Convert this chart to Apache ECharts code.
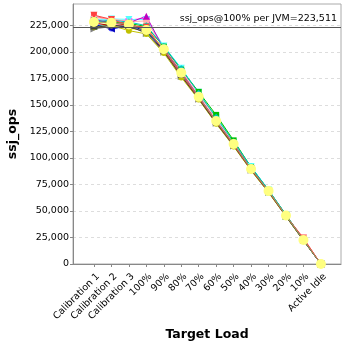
<!DOCTYPE html>
<html>
<head>
<meta charset="utf-8">
<script src="https://cdn.jsdelivr.net/npm/echarts@6/dist/echarts.min.js"></script>
<style>
  html, body { margin: 0; padding: 0; background: #fff; }
  #chart { width: 348px; height: 348px; }
</style>
</head>
<body>
<div id="chart"></div>
<script>
// Target load levels along the x axis
const categories = ['Calibration 1', 'Calibration 2', 'Calibration 3', '100%', '90%', '80%',
  '70%', '60%', '50%', '40%', '30%', '20%', '10%', 'Active Idle'];

// ssj_ops per JVM at each load level
const jvm01 = [233800, 229500, 224000, 222800, 200500, 178000, 156000, 133200, 111500, 88900, 68200, 45200, 23800, 0];
const jvm02 = [226500, 222000, 223500, 219000, 201800, 179300, 157200, 134000, 112400, 89100, 68400, 45300, 22400, 0];
const jvm03 = [224000, 226800, 227500, 218000, 204200, 177500, 158800, 139800, 115300, 90500, 68000, 45000, 22200, 0];
const jvm04 = [228800, 225900, 221000, 221500, 203000, 182000, 157900, 135500, 113800, 90200, 69500, 46000, 22800, 0];
const jvm05 = [231000, 228900, 229800, 231800, 202600, 181200, 158300, 134900, 112900, 89800, 69100, 45800, 22500, 0];
const jvm06 = [230200, 230900, 230500, 230200, 205400, 184500, 161800, 137600, 114800, 91800, 69800, 46500, 22900, 0];
const jvm07 = [232000, 231200, 228300, 229000, 203900, 182800, 160500, 136300, 114000, 90700, 69200, 46100, 23100, 0];
const jvm08 = [221500, 223800, 224500, 217200, 199500, 176800, 155200, 132600, 111200, 88300, 67700, 44800, 22100, 0];
const jvm09 = [227200, 224500, 226100, 220800, 201000, 179000, 156400, 133800, 112100, 89300, 68600, 45500, 22700, 0];
const jvm10 = [225800, 221500, 224900, 219600, 202100, 179800, 157000, 134400, 112700, 89500, 68800, 45600, 22600, 0];
const jvm11 = [229500, 227800, 226700, 223800, 204800, 183200, 162200, 140500, 116500, 91200, 69600, 46300, 22800, 0];
const jvm12 = [223200, 224800, 219900, 216800, 198800, 175800, 154900, 132200, 110800, 88000, 67300, 44600, 21900, 0];
const jvm13 = [230800, 226300, 227300, 233500, 202800, 180500, 157700, 134800, 113200, 89900, 69000, 45700, 22600, 0];
const jvm14 = [228300, 229700, 228000, 224600, 205000, 183900, 161000, 138200, 115100, 91400, 69700, 46400, 22900, 0];
const jvm15 = [222800, 225200, 223300, 218500, 200200, 177300, 155600, 133000, 111600, 88600, 67900, 44900, 22200, 0];
const jvm16 = [234500, 230500, 225000, 223000, 201500, 178600, 156800, 134200, 112300, 89200, 68500, 45400, 24500, 0];

// Mean over all JVMs
const average = [228000, 227400, 225800, 220500, 202300, 180100, 157500, 134700, 113000, 89600, 68900, 45700, 22600, 0];

// Reference value: ssj_ops at 100% load per JVM
const perJvmAt100 = 223511;

// Y axis tick values
const yTicks = [0, 25000, 50000, 75000, 100000, 125000, 150000, 175000, 200000, 225000];

const jvmSeries = [jvm01, jvm02, jvm03, jvm04, jvm05, jvm06, jvm07, jvm08,
  jvm09, jvm10, jvm11, jvm12, jvm13, jvm14, jvm15, jvm16];

const palette = ['#FF5555', '#5555FF', '#55FF55', '#FFFF55', '#FF55FF', '#55FFFF', '#FFAFAF', '#808080',
  '#C00000', '#0000C0', '#00C000', '#C0C000', '#C000C0', '#00C0C0', '#404040', '#FF4040'];
const shapes = [
  ['rect', 0, 6], ['circle', 0, 6], ['triangle', 0, 7], ['diamond', 0, 7],
  ['rect', 0, [7, 4]], ['triangle', 180, 7], ['circle', 0, [7, 5]], ['triangle', -90, 7],
  ['rect', 0, [4, 7]], ['triangle', 90, 7], ['rect', 0, 6], ['circle', 0, 6],
  ['triangle', 0, 7], ['diamond', 0, 7], ['rect', 0, [7, 4]], ['triangle', 180, 7]
];

const fmt = v => Math.round(v).toString().replace(/\B(?=(\d{3})+(?!\d))/g, ',');
const idx = categories.map((c, i) => i);
// rotated category labels sit a little to the right of their tick
const labelPos = idx.map(i => i + 0.23);

const series = jvmSeries.map((vals, s) => ({
  type: 'line',
  name: 'JVM ' + (s + 1),
  data: vals.map((v, i) => [i, v]),
  symbol: shapes[s][0],
  symbolRotate: shapes[s][1],
  symbolSize: shapes[s][2],
  itemStyle: { color: palette[s] },
  lineStyle: { color: palette[s], width: 1 },
  emphasis: { disabled: true },
  animation: false,
  z: 2
}));

series.push({
  type: 'line',
  name: 'Average',
  data: average.map((v, i) => [i, v]),
  symbol: 'circle',
  symbolSize: 10,
  itemStyle: { color: '#FFFF80' },
  lineStyle: { color: '#A0A060', width: 1 },
  emphasis: { disabled: true },
  animation: false,
  z: 4,
  markLine: {
    silent: true,
    symbol: 'none',
    animation: false,
    lineStyle: { color: '#555555', width: 1, type: 'solid' },
    label: {
      position: 'insideEndTop',
      formatter: 'ssj_ops@100% per JVM=' + fmt(perJvmAt100),
      color: '#000',
      fontFamily: 'DejaVu Sans',
      fontSize: 9.5,
      padding: [0, 4, 0, 0],
      distance: [0, 3]
    },
    data: [{ yAxis: perJvmAt100 }]
  }
});

const chart = echarts.init(document.getElementById('chart'), null, { renderer: 'canvas' });
chart.setOption({
  backgroundColor: '#ffffff',
  animation: false,
  grid: {
    left: 73, right: 7, top: 4, bottom: 84,
    containLabel: false,
    outerBoundsMode: 'none',
    show: true, borderColor: '#aaaaaa', borderWidth: 1, backgroundColor: '#ffffff'
  },
  xAxis: {
    type: 'value',
    min: -1.2,
    max: 14.15,
    name: 'Target Load',
    nameLocation: 'middle',
    nameGap: 64,
    nameTextStyle: { fontFamily: 'DejaVu Sans', fontWeight: 'bold', fontSize: 12.5, color: '#000' },
    axisLine: { show: true, onZero: false, lineStyle: { color: '#888888' } },
    axisTick: { show: true, customValues: idx, length: 3, inside: false, lineStyle: { color: '#888888' } },
    axisLabel: {
      customValues: labelPos,
      rotate: 45,
      formatter: v => categories[Math.round(v)],
      fontFamily: 'DejaVu Sans',
      fontSize: 9.5,
      color: '#000',
      margin: 11
    },
    splitLine: { show: false }
  },
  yAxis: {
    type: 'value',
    min: 0,
    max: 245000,
    name: 'ssj_ops',
    nameLocation: 'middle',
    nameGap: 42,
    nameTextStyle: { fontFamily: 'DejaVu Sans', fontWeight: 'bold', fontSize: 12.5, color: '#000' },
    axisLine: { show: true, onZero: false, lineStyle: { color: '#888888' } },
    axisTick: { show: true, customValues: yTicks, length: 3, lineStyle: { color: '#888888' } },
    axisLabel: {
      customValues: yTicks,
      formatter: v => fmt(v),
      fontFamily: 'DejaVu Sans',
      fontSize: 9.5,
      color: '#000',
      margin: 4
    },
    splitLine: { show: true, lineStyle: { color: '#dddddd', type: [3, 3], width: 1 } }
  },
  series: series
});
</script>
</body>
</html>
